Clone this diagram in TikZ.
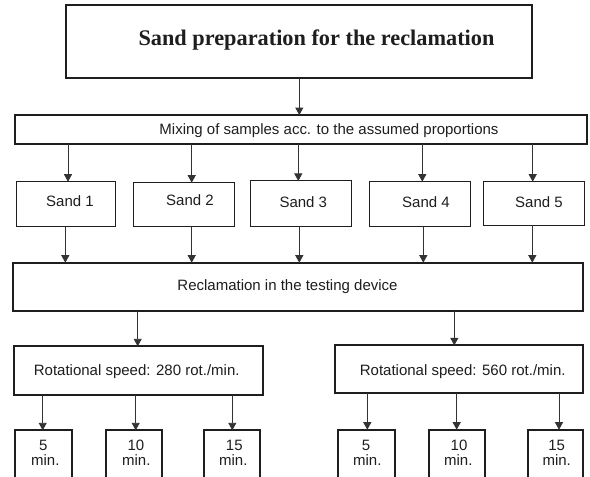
\documentclass[tikz,border=0pt]{standalone}
\usepackage{fontspec}
\setmainfont{Liberation Serif}
\setsansfont{Liberation Sans}
\usetikzlibrary{arrows.meta}
\definecolor{ink}{HTML}{1E1E1E}
\definecolor{lineg}{HTML}{333333}
\begin{document}
\begin{tikzpicture}[x=1pt,y=-1pt,
  thickbox/.style={draw=ink,line width=2pt,inner sep=0pt,outer sep=0pt},
  thinbox/.style={draw=ink,line width=1pt,inner sep=0pt,outer sep=0pt},
  lbl/.style={font=\sffamily\fontsize{15}{15}\selectfont,text=ink,inner sep=0pt,anchor=base},
  ttl/.style={font=\rmfamily\bfseries\fontsize{22.3}{22.3}\selectfont,text=ink,inner sep=0pt,anchor=base},
  arr/.style={draw=lineg,line width=0.9pt,-{Triangle[length=7.5pt,width=8pt]}}]
\useasboundingbox (0,0) rectangle (590,477);
\fill[white] (0,0) rectangle (590,477);
\clip (0,0) rectangle (590,477);

% boxes
\node[thickbox,minimum width=465.7pt,minimum height=72.7pt] (top) at (298.9,41.3) {};
\node[thickbox,minimum width=571.4pt,minimum height=29.3pt] (mix) at (301,129.7) {};
\node[thinbox,minimum width=99.3pt,minimum height=45pt] (s1) at (65.7,204.2) {};
\node[thinbox,minimum width=100.7pt,minimum height=44pt] (s2) at (184.3,204.7) {};
\node[thinbox,minimum width=101pt,minimum height=45.7pt] (s3) at (300.5,203.8) {};
\node[thinbox,minimum width=100.7pt,minimum height=45pt] (s4) at (419.7,204.2) {};
\node[thinbox,minimum width=100.7pt,minimum height=43.6pt] (s5) at (533.7,203.5) {};
\node[thickbox,minimum width=570pt,minimum height=48pt] (rec) at (298.3,286.7) {};
\node[thickbox,minimum width=249pt,minimum height=48.4pt] (r1) at (138.8,370.5) {};
\node[thickbox,minimum width=248.3pt,minimum height=47.7pt] (r2) at (459.2,369.2) {};
\node[thickbox,minimum width=57pt,minimum height=70pt] (ma) at (43.2,465.3) {};
\node[thickbox,minimum width=56.3pt,minimum height=70pt] (mb) at (134.2,465.3) {};
\node[thickbox,minimum width=56pt,minimum height=70pt] (mc) at (232,465.3) {};
\node[thickbox,minimum width=56.7pt,minimum height=70pt] (md) at (366.7,464.7) {};
\node[thickbox,minimum width=55.7pt,minimum height=70pt] (me) at (457.2,464.7) {};
\node[thickbox,minimum width=55pt,minimum height=70pt] (mf) at (555.2,464.7) {};

% texts
\node[ttl] (ttop) at (316.5,45) {Sand preparation for the reclamation};
\node[lbl] (tmix) at (329,134) {Mixing of samples acc. to the assumed proportions};
\node[lbl] (ts1) at (70,206) {Sand 1};
\node[lbl] (ts2) at (190,205) {Sand 2};
\node[lbl] (ts3) at (303.3,207) {Sand 3};
\node[lbl] (ts4) at (426,207) {Sand 4};
\node[lbl] (ts5) at (539,207) {Sand 5};
\node[lbl] (trec) at (287.5,290.4) {Reclamation in the testing device};
\node[lbl] (tr1) at (136.7,375) {Rotational speed: 280 rot./min.};
\node[lbl] (tr2) at (462.7,375) {Rotational speed: 560 rot./min.};
\node[lbl] (na) at (43.3,450.6) {5};
\node[lbl] (nb) at (136,450.6) {10};
\node[lbl] (nc) at (234.3,450.6) {15};
\node[lbl] (nd) at (366,450.6) {5};
\node[lbl] (ne) at (459,450.6) {10};
\node[lbl] (nf) at (556.7,450.6) {15};
\node[lbl] (ua) at (45.3,465.2) {min.};
\node[lbl] (ub) at (136.3,465.2) {min.};
\node[lbl] (uc) at (233.3,465.2) {min.};
\node[lbl] (ud) at (367.3,465.2) {min.};
\node[lbl] (ue) at (458.3,465.2) {min.};
\node[lbl] (uf) at (556.7,465.2) {min.};

% connector columns
\coordinate (x0) at (299.3,0);
\coordinate (xa1) at (68,0);
\coordinate (xa2) at (191.7,0);
\coordinate (xa3) at (298.3,0);
\coordinate (xa4) at (422.3,0);
\coordinate (xa5) at (532.7,0);
\coordinate (xb1) at (65.3,0);
\coordinate (xb2) at (191.7,0);
\coordinate (xb3) at (299.3,0);
\coordinate (xb4) at (423.3,0);
\coordinate (xb5) at (532.3,0);
\coordinate (xr1) at (137.7,0);
\coordinate (xr2) at (454.3,0);
\coordinate (xm1) at (42.7,0);
\coordinate (xm2) at (135.7,0);
\coordinate (xm3) at (232.3,0);
\coordinate (xm4) at (367.3,0);
\coordinate (xm5) at (456.7,0);
\coordinate (xm6) at (559,0);

% connectors
\draw[arr] (top.south -| x0) -- (mix.north -| x0);
\draw[arr] (mix.south -| xa1) -- (s1.north -| xa1);
\draw[arr] (mix.south -| xa2) -- (s2.north -| xa2);
\draw[arr] (mix.south -| xa3) -- (s3.north -| xa3);
\draw[arr] (mix.south -| xa4) -- (s4.north -| xa4);
\draw[arr] (mix.south -| xa5) -- (s5.north -| xa5);
\draw[arr] (s1.south -| xb1) -- (rec.north -| xb1);
\draw[arr] (s2.south -| xb2) -- (rec.north -| xb2);
\draw[arr] (s3.south -| xb3) -- (rec.north -| xb3);
\draw[arr] (s4.south -| xb4) -- (rec.north -| xb4);
\draw[arr] (s5.south -| xb5) -- (rec.north -| xb5);
\draw[arr] (rec.south -| xr1) -- (r1.north -| xr1);
\draw[arr] (rec.south -| xr2) -- (r2.north -| xr2);
\draw[arr] (r1.south -| xm1) -- (ma.north -| xm1);
\draw[arr] (r1.south -| xm2) -- (mb.north -| xm2);
\draw[arr] (r1.south -| xm3) -- (mc.north -| xm3);
\draw[arr] (r2.south -| xm4) -- (md.north -| xm4);
\draw[arr] (r2.south -| xm5) -- (me.north -| xm5);
\draw[arr] (r2.south -| xm6) -- (mf.north -| xm6);
\end{tikzpicture}
\end{document}
